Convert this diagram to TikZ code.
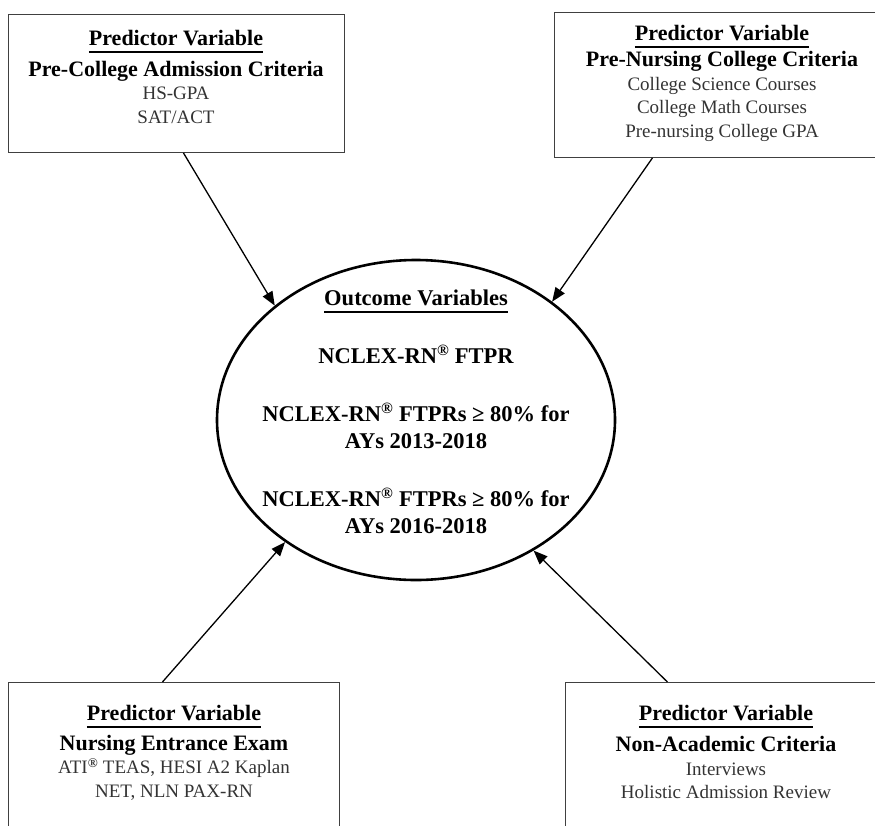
\documentclass[tikz,border=0pt]{standalone}
\usepackage{fontspec}
\setmainfont{Liberation Serif}
\usetikzlibrary{shapes.geometric,arrows.meta}
\newsavebox{\ulbox}
\newcommand{\ulhead}[1]{\sbox\ulbox{#1}\rlap{\rule[-7.5pt]{\wd\ulbox}{1.8pt}}\usebox\ulbox}
\newcommand{\bhead}{\bfseries\fontsize{22}{23.5}\selectfont\color{black}}
\newcommand{\regmark}{\textsuperscript{®}}

\begin{document}
\begin{tikzpicture}[x=1pt, y=-1pt,
  predbox/.style={draw=black!75, line width=0.9pt, rectangle, inner sep=0pt, anchor=north west},
  predtext/.style={align=center, inner sep=0pt, anchor=north, text=black!80, font=\fontsize{19}{23.5}\selectfont},
  feed/.style={-{Triangle[length=14pt,width=11pt]}, line width=1.3pt}]
\useasboundingbox (0,0) rectangle (875,825);

% Predictor boxes - one in each corner
\node[predbox, minimum width=336pt, minimum height=138pt] (pcbox) at (8,14) {};
\node[predtext] (pctext) at (176,30) {{\bhead\ulhead{Predictor Variable}}\\[7.5pt]{\bhead Pre-College Admission Criteria}\\HS-GPA\\SAT/ACT};

\node[predbox, minimum width=336pt, minimum height=145pt] (pnbox) at (554,12) {};
\node[predtext] (pntext) at (722,25) {{\bhead\ulhead{Predictor Variable}}\\[3pt]{\bhead Pre-Nursing College Criteria}\\College Science Courses\\College Math Courses\\Pre-nursing College GPA};

\node[predbox, minimum width=331pt, minimum height=160pt] (nebox) at (8,682) {};
\node[predtext] (netext) at (174,705) {{\bhead\ulhead{Predictor Variable}}\\[6.5pt]{\bhead Nursing Entrance Exam}\\ATI\textsuperscript{\textbf{®}} TEAS, HESI A2 Kaplan\\NET, NLN PAX-RN};

\node[predbox, minimum width=322pt, minimum height=160pt] (nabox) at (565,682) {};
\node[predtext] (natext) at (726,705) {{\bhead\ulhead{Predictor Variable}}\\[8pt]{\bhead Non-Academic Criteria}\\Interviews\\Holistic Admission Review};

% Outcome ellipse in the middle
\node[draw, ellipse, line width=2.6pt, inner sep=0pt, minimum width=398pt, minimum height=320pt] (outcome) at (416,420) {};
\node[align=center, inner sep=0pt, anchor=north, font=\bfseries\fontsize{22.5}{27}\selectfont] (outtext) at (416,289.5) {\ulhead{Outcome Variables}\\[31pt]NCLEX-RN\regmark{} FTPR\\[31pt]NCLEX-RN\regmark{} FTPRs ≥ 80\% for\\AYs 2013-2018\\[31pt]NCLEX-RN\regmark{} FTPRs ≥ 80\% for\\AYs 2016-2018};

% Arrows into the ellipse
\draw[feed] ([xshift=7pt]pcbox.south) -- (outcome.141.9);
\draw[feed] ([xshift=-70pt]pnbox.south) -- (outcome.41.8);
\draw[feed] ([xshift=-11.5pt]nebox.north) -- (outcome.223.6);
\draw[feed] ([xshift=-59pt]nabox.north) -- (outcome.312.9);
\end{tikzpicture}
\end{document}
